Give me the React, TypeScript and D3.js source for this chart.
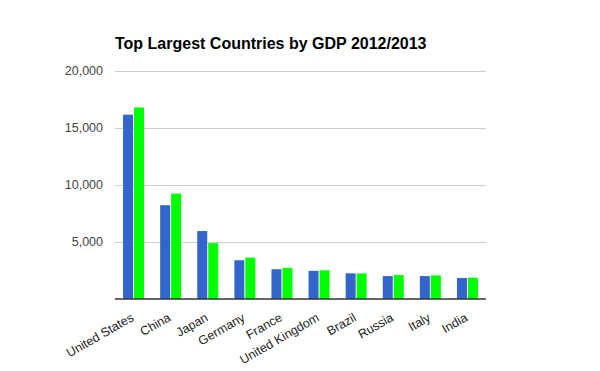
import { useEffect, useRef } from 'react';
import * as d3 from 'd3';

const countries = ['United States', 'China', 'Japan', 'Germany', 'France', 'United Kingdom', 'Brazil', 'Russia', 'Italy', 'India'];
const gdp2012 = [16170, 8230, 5960, 3400, 2610, 2470, 2250, 2010, 2010, 1840];
const gdp2013 = [16800, 9240, 4900, 3630, 2730, 2520, 2240, 2100, 2070, 1870];
const yTicks = [5000, 10000, 15000, 20000];

const App = () => {
  const ref = useRef<SVGSVGElement | null>(null);

  useEffect(() => {
    const svg = d3.select(ref.current);
    svg.selectAll('*').remove();

    const margin = { top: 71, right: 114, bottom: 72, left: 115 };
    const width = 600 - margin.left - margin.right;
    const height = 371 - margin.top - margin.bottom;
    const font = 'Arial, "Liberation Sans", sans-serif';

    svg.append('text')
      .attr('x', 115)
      .attr('y', 49)
      .attr('font-family', font)
      .attr('font-size', 16)
      .attr('font-weight', 'bold')
      .attr('fill', '#000')
      .text('Top Largest Countries by GDP 2012/2013');

    const g = svg.append('g').attr('transform', `translate(${margin.left},${margin.top})`);

    const x = d3.scaleBand().domain(countries).range([0, width]);
    const y = d3.scaleLinear().domain([0, 20000]).range([height, 0]);

    // gridlines
    g.selectAll('.grid')
      .data(yTicks)
      .enter().append('line')
      .attr('x1', 0)
      .attr('x2', width)
      .attr('y1', d => Math.round(y(d)) + 0.5)
      .attr('y2', d => Math.round(y(d)) + 0.5)
      .attr('stroke', '#cccccc');

    g.selectAll('.ylab')
      .data(yTicks)
      .enter().append('text')
      .attr('x', -12)
      .attr('y', d => y(d))
      .attr('dy', '0.35em')
      .attr('text-anchor', 'end')
      .attr('font-family', font)
      .attr('font-size', 12.5)
      .attr('fill', '#444')
      .text(d => d3.format(',')(d));

    const barW = 10;

    g.selectAll('.bar-2012')
      .data(countries)
      .enter().append('rect')
      .attr('x', d => x(d)! + x.bandwidth() / 2 - barW - 0.5)
      .attr('y', (_d, i) => y(gdp2012[i]))
      .attr('width', barW)
      .attr('height', (_d, i) => height - y(gdp2012[i]))
      .attr('fill', '#3366cc');

    g.selectAll('.bar-2013')
      .data(countries)
      .enter().append('rect')
      .attr('x', d => x(d)! + x.bandwidth() / 2 + 0.5)
      .attr('y', (_d, i) => y(gdp2013[i]))
      .attr('width', barW)
      .attr('height', (_d, i) => height - y(gdp2013[i]))
      .attr('fill', '#00ff00');

    // baseline
    g.append('line')
      .attr('x1', 0)
      .attr('x2', width)
      .attr('y1', height)
      .attr('y2', height)
      .attr('stroke', '#333')
      .attr('stroke-width', 1.5);

    g.selectAll('.xlab')
      .data(countries)
      .enter().append('text')
      .attr('transform', d => `translate(${x(d)! + x.bandwidth() / 2 + 1},${height + 21}) rotate(-30)`)
      .attr('text-anchor', 'end')
      .attr('font-family', font)
      .attr('font-size', 12.5)
      .attr('fill', '#222')
      .text(d => d);
  }, []);

  return <svg ref={ref} width={600} height={371} style={{ display: 'block', position: 'absolute', left: 0, top: 0 }}></svg>;
};

export default App;
